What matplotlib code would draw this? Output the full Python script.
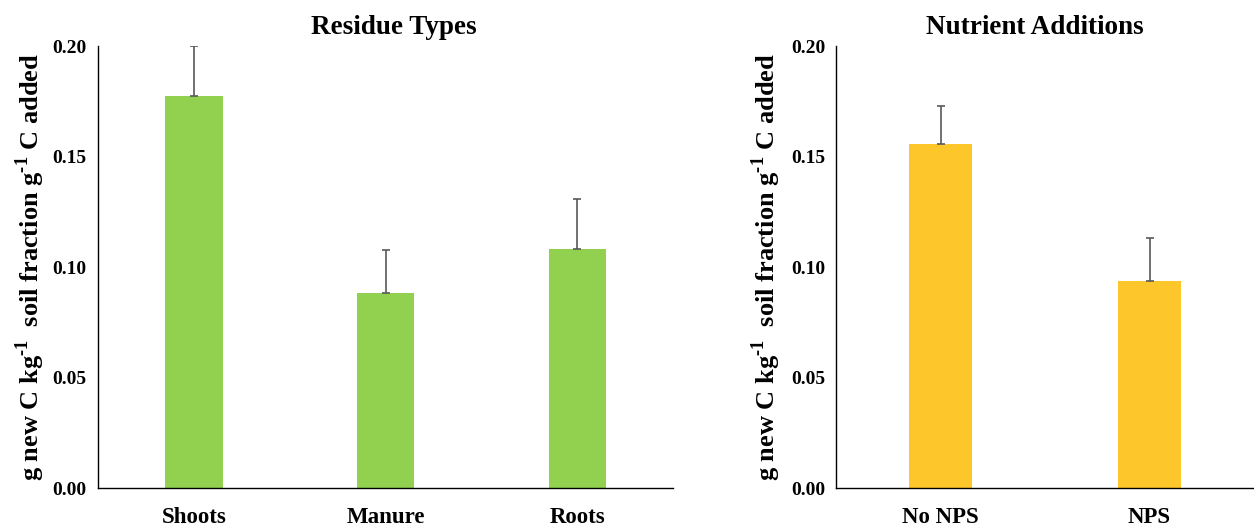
import matplotlib
matplotlib.use('Agg')
import matplotlib.pyplot as plt

# datos
residuos = ['Shoots', 'Manure', 'Roots']
residuos_media = [0.1774, 0.0882, 0.1081]
residuos_err = [0.0226, 0.0195, 0.0227]

nutrientes = ['No NPS', 'NPS']
nutrientes_media = [0.1557, 0.0937]
nutrientes_err = [0.0172, 0.0194]

yticks = [0.00, 0.05, 0.10, 0.15, 0.20]

plt.rcParams['font.family'] = ['Liberation Serif', 'DejaVu Serif']
plt.rcParams['font.weight'] = 'bold'
plt.rcParams['mathtext.fontset'] = 'custom'
plt.rcParams['mathtext.rm'] = 'Liberation Serif:bold'
plt.rcParams['mathtext.bf'] = 'Liberation Serif:bold'

etiqueta_y = r'g new C kg$^{\text{-1}}$  soil fraction g$^{\text{-1}}$ C added'

fig = plt.figure(figsize=(12.54, 5.29), dpi=100)
ax1 = fig.add_axes([0.078, 0.0775, 0.459, 0.8355])
ax2 = fig.add_axes([0.667, 0.0775, 0.333, 0.8355])


def dibujar(ax, cats, medias, errs, color, titulo, xt, lp):
    x = range(len(cats))
    ax.bar(x, medias, width=0.30, color=color, zorder=2)
    ax.errorbar(x, medias, yerr=[[0] * len(errs), errs], fmt='none',
                ecolor='#595959', elinewidth=1.2, capsize=3, capthick=1.2, zorder=3)
    ax.set_xlim(-0.5, len(cats) - 0.5)
    ax.set_ylim(0, 0.20)
    ax.set_yticks(yticks)
    ax.set_yticklabels([f'{v:.2f}' for v in yticks], fontsize=14, fontweight='bold')
    ax.set_xticks(list(x))
    ax.set_xticklabels(cats, fontsize=16.5, fontweight='bold')
    ax.tick_params(axis='y', length=0, pad=8)
    ax.tick_params(axis='x', length=0, pad=14)
    for s in ['top', 'right']:
        ax.spines[s].set_visible(False)
    ax.spines['left'].set_linewidth(1.0)
    ax.spines['bottom'].set_linewidth(1.0)
    ax.set_title(titulo, fontsize=19.5, fontweight='bold', pad=9, x=xt)
    ax.set_ylabel(etiqueta_y, fontsize=19, fontweight='bold', labelpad=lp)


dibujar(ax1, residuos, residuos_media, residuos_err, '#92D050', 'Residue Types', 0.515, 4)
dibujar(ax2, nutrientes, nutrientes_media, nutrientes_err, '#FDC62B', 'Nutrient Additions', 0.474, 6)

fig.savefig('out.png', dpi=100)
